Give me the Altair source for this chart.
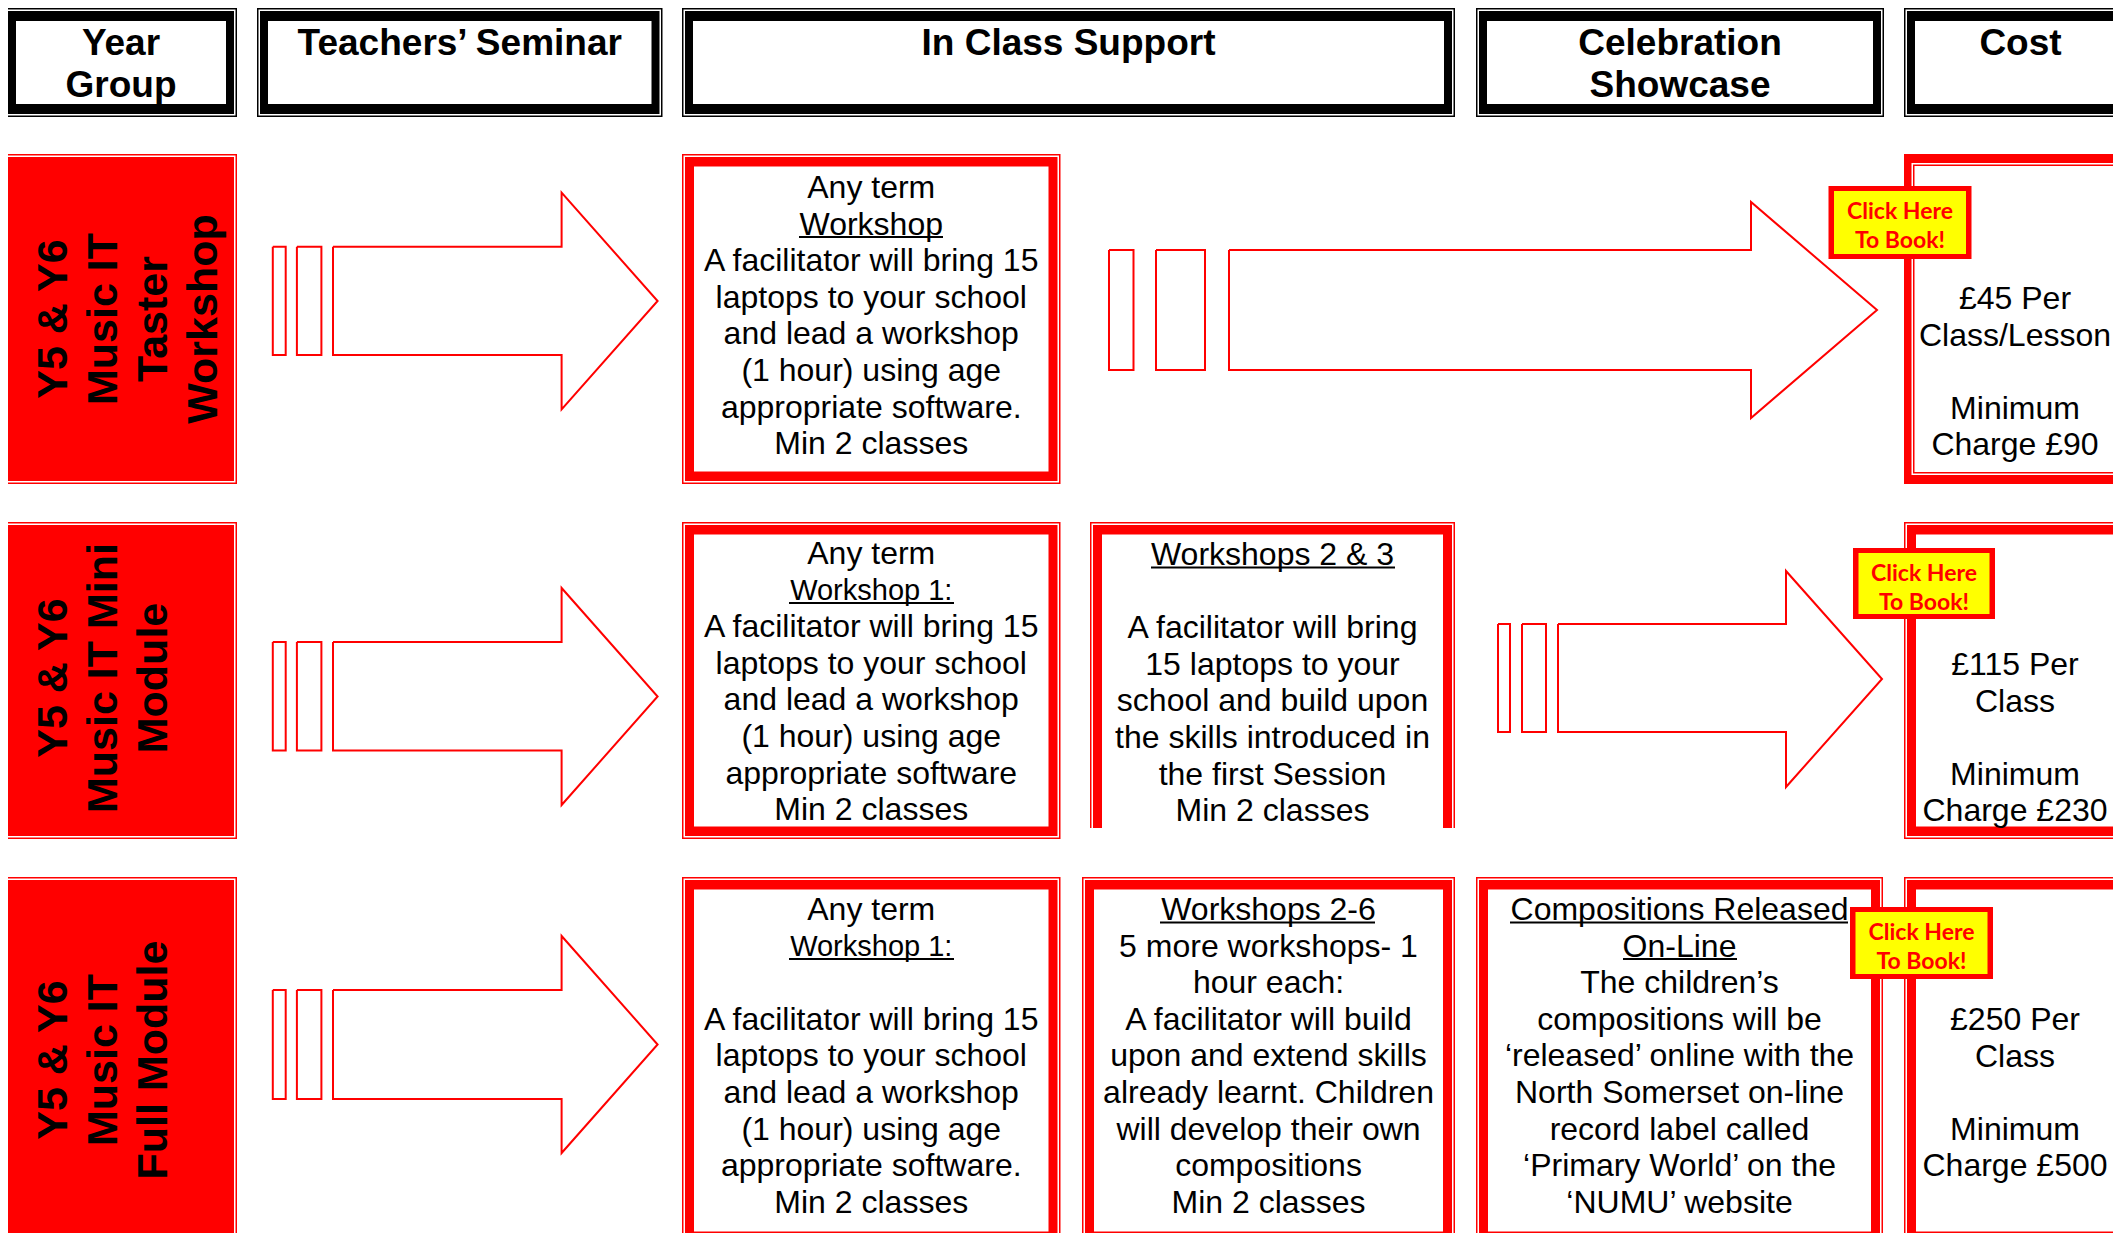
import altair as alt
import pandas as pd

W, H = 2105, 1225
RED, BLACK, WHITE, YELLOW = "#ff0000", "#000000", "#ffffff", "#ffff00"

# ---------------- content ----------------
HEADERS = [["Year", "Group"], ["Teachers’ Seminar"], ["In Class Support"],
           ["Celebration", "Showcase"], ["Cost"]]
ROW_LABELS = [["Y5 & Y6", "Music IT", "Taster", "Workshop"],
              ["Y5 & Y6", "Music IT Mini", "Module"],
              ["Y5 & Y6", "Music IT", "Full Module"]]
IN_CLASS = [
    ["Any term", "_Workshop", "A facilitator will bring 15", "laptops to your school",
     "and lead a workshop", "(1 hour) using age", "appropriate software.", "Min 2 classes"],
    ["Any term", "_Workshop 1:", "A facilitator will bring 15", "laptops to your school",
     "and lead a workshop", "(1 hour) using age", "appropriate software", "Min 2 classes"],
    ["Any term", "_Workshop 1:", "", "A facilitator will bring 15", "laptops to your school",
     "and lead a workshop", "(1 hour) using age", "appropriate software.", "Min 2 classes"],
]
WORKSHOPS_2_3 = ["_Workshops 2 & 3", "", "A facilitator will bring", "15 laptops to your",
                 "school and build upon", "the skills introduced in", "the first Session",
                 "Min 2 classes"]
WORKSHOPS_2_6 = ["_Workshops 2-6", "5 more workshops- 1", "hour each:",
                 "A facilitator will build", "upon and extend skills",
                 "already learnt. Children", "will develop their own", "compositions",
                 "Min 2 classes"]
SHOWCASE = ["_Compositions Released", "_On-Line", "The children’s", "compositions will be",
            "‘released’ online with the", "North Somerset on-line", "record label called",
            "‘Primary World’ on the", "‘NUMU’ website"]
COST = [["£45 Per", "Class/Lesson", "", "Minimum", "Charge £90"],
        ["£115 Per", "Class", "", "Minimum", "Charge £230"],
        ["£250 Per", "Class", "", "Minimum", "Charge £500"]]
BADGE_TEXT = ["Click Here", "To Book!"]

# ---------------- layout (page pixels) ----------------
HEADER_X = [(5, 237), (257, 662.5), (682, 1455), (1476, 1884), (1904, 2137)]
HEADER_Y = (8, 117)
ROW_Y = [(154, 484), (522, 839), (877, 1244)]
LABEL_X = (5, 237)
INCLASS_X = (682, 1060.5)
W23_BOX = (1090, 522, 1455, 828)
W26_BOX = (1082, 877, 1455, 1244)
SHOW_BOX = (1476, 877, 1883, 1244)
COST_X = (1904, 2137)
COST_TEXT_X = 2015
BADGES = [(1828.5, 186, 1971.5, 259), (1853, 548, 1995, 619), (1850, 907, 1993, 979)]
LINE_STEP = 36.6
INCLASS_Y0 = [186, 552, 908]
COST_Y0 = [297, 663, 1018]
LABEL_COLS = [51, 101, 151, 201]
LABEL_MID = [319, 678, 1060]
UNDERLINES = {  # (row, text) -> x span
    (0, "Workshop"): (799, 943), (1, "Workshop 1:"): (789, 954),
    (2, "Workshop 1:"): (789, 954), (1, "Workshops 2 & 3"): (1151, 1395),
    (2, "Workshops 2-6"): (1160, 1375), (2, "Compositions Released"): (1510, 1848),
    (2, "On-Line"): (1623, 1737),
}
# arrows: small bar spans, shaft start, head base, tip x, shaft y, head y
TS_ARROW_X = ((272.8, 285.7), (296.9, 321.4), 333, 561.6, 657.6)
TS_ARROW_Y = [((246.7, 355), (192.7, 409.3)), ((642, 750.5), (588, 805)),
              ((990, 1099), (936, 1153))]
CEL_ARROWS = [(((1109, 1133.5), (1156, 1205), 1229, 1751, 1877), ((250, 370), (202, 418))),
              (((1498, 1510), (1522, 1546), 1558, 1786, 1882), ((624, 732), (571, 787)))]

# ---------------- build tables ----------------
rects = []


def add(x1, y1, x2, y2, c, tbl):
    tbl.append(dict(x=x1, x2=x2, y=y1, y2=y2, c=c, i=len(tbl)))


def frame(box, color, kind, side=9, top=9.5, open_bottom=False, tbl=rects):
    x1, y1, x2, y2 = box
    if kind == "thin_thick":
        ins = [(0, 0, color), (1.5, 1.5, WHITE), (3, 3, color), (3 + side, 3 + top, WHITE)]
    elif kind == "thick_thin":
        ins = [(0, 0, color), (side, top, WHITE), (side + 1.5, top + 1.5, color),
               (side + 3, top + 3, WHITE)]
    else:
        ins = [(0, 0, color), (1.5, 1.5, WHITE), (3, 3, color)]
    for dx, dy, c in ins:
        add(x1 + dx, y1 + dy, x2 - dx, y2 if open_bottom else y2 - dy, c, tbl)


for hx in HEADER_X:
    frame((hx[0], HEADER_Y[0], hx[1], HEADER_Y[1]), BLACK, "thin_thick", side=8, top=10)
for r, (ya, yb) in enumerate(ROW_Y):
    frame((LABEL_X[0], ya, LABEL_X[1], yb), RED, "filled")
    frame((INCLASS_X[0], ya, INCLASS_X[1], yb), RED, "thin_thick")
    if r == 0:
        frame((COST_X[0], ya, COST_X[1], yb), RED, "thick_thin", side=7.5, top=9)
    else:
        frame((COST_X[0], ya, COST_X[1], yb), RED, "thin_thick")
frame(W23_BOX, RED, "thin_thick", open_bottom=True)
frame(W26_BOX, RED, "thin_thick")
frame(SHOW_BOX, RED, "thin_thick")

badge_rects = []
for b in BADGES:
    add(b[0], b[1], b[2], b[3], RED, badge_rects)
    add(b[0] + 5.5, b[1] + 5, b[2] - 5.5, b[3] - 5, YELLOW, badge_rects)

# arrow outlines
lines = []


def poly(pid, pts):
    for k, (x, y) in enumerate(pts + [pts[0]]):
        lines.append(dict(id=pid, k=k, x=x, y=y))


def arrow(pid, xs, ys):
    (b1, b2, x0, hx, tx), ((s1, s2), (h1, h2)) = xs, ys
    for j, (a, b) in enumerate((b1, b2)):
        poly(f"{pid}b{j}", [(a, s1), (b, s1), (b, s2), (a, s2)])
    poly(f"{pid}a", [(x0, s1), (hx, s1), (hx, h1), (tx, (h1 + h2) / 2), (hx, h2), (hx, s2), (x0, s2)])


for r, ys in enumerate(TS_ARROW_Y):
    arrow(f"ts{r}", TS_ARROW_X, ys)
for r, (xs, ys) in enumerate(CEL_ARROWS):
    arrow(f"cel{r}", xs, ys)

# text
head_txt, body_txt, label_txt, badge_txt, unders = [], [], [], [], []
for (x1, x2), lns in zip(HEADER_X, HEADERS):
    for j, t in enumerate(lns):
        head_txt.append(dict(x=(x1 + x2) / 2, y=55 + 42 * j, t=t))


def block(row, cx, y0, lns, fs=32):
    for j, t in enumerate(lns):
        if not t:
            continue
        u = t.startswith("_")
        t = t.lstrip("_")
        yc = y0 + LINE_STEP * j
        size = 29 if t == "Workshop 1:" else fs
        body_txt.append(dict(x=cx, y=yc + 2, t=t, fs=size))
        if u:
            sx = UNDERLINES[(row, t)]
            unders.append(dict(x=sx[0], x2=sx[1], y=yc + 14.5))


for r in range(3):
    block(r, sum(INCLASS_X) / 2, INCLASS_Y0[r], IN_CLASS[r])
    block(r, COST_TEXT_X, COST_Y0[r], COST[r])
block(1, (W23_BOX[0] + W23_BOX[2]) / 2, 553, WORKSHOPS_2_3)
block(2, (W26_BOX[0] + W26_BOX[2]) / 2, 908, WORKSHOPS_2_6)
block(2, (SHOW_BOX[0] + SHOW_BOX[2]) / 2, 908, SHOWCASE)

for r, lns in enumerate(ROW_LABELS):
    for j, t in enumerate(lns):
        label_txt.append(dict(x=LABEL_COLS[j] + 3, y=LABEL_MID[r], t=t))

for b in BADGES:
    for j, t in enumerate(BADGE_TEXT):
        badge_txt.append(dict(x=(b[0] + b[2]) / 2, y=b[1] + 24.5 + 29.5 * j + 1.3, t=t))

# ---------------- chart ----------------
xs = alt.Scale(domain=[8, 8 + W], range=[0, W], nice=False, zero=False)
ys = alt.Scale(domain=[8, 8 + H], range=[0, H], nice=False, zero=False)
X = lambda f="x": alt.X(f, type="quantitative", scale=xs, axis=None)
Y = lambda f="y": alt.Y(f, type="quantitative", scale=ys, axis=None)
col = alt.Color("c:N", scale=None)


def rect_layer(tbl):
    return alt.Chart(pd.DataFrame(tbl)).mark_rect(clip=True).encode(
        x=X(), x2="x2:Q", y=Y(), y2="y2:Q", color=col, order=alt.Order("i:Q"))


boxes = rect_layer(rects)
badges = rect_layer(badge_rects)

arrows = alt.Chart(pd.DataFrame(lines)).mark_line(
    color=RED, strokeWidth=2, clip=True, strokeJoin="miter").encode(
    x=X(), y=Y(), detail="id:N", order="k:Q")

head = alt.Chart(pd.DataFrame(head_txt)).mark_text(
    font="Liberation Sans", fontWeight="bold", fontSize=37, align="center",
    baseline="alphabetic", color=BLACK, clip=True).encode(x=X(), y=Y(), text="t:N")

body = alt.Chart(pd.DataFrame(body_txt)).mark_text(
    font="Liberation Sans", align="center", baseline="middle", color=BLACK,
    clip=True).encode(x=X(), y=Y(), text="t:N", size=alt.Size("fs:Q", scale=None))

under = alt.Chart(pd.DataFrame(unders)).mark_rule(
    color=BLACK, strokeWidth=2, clip=True).encode(x=X(), x2="x2:Q", y=Y())

labels = alt.Chart(pd.DataFrame(label_txt)).mark_text(
    font="Liberation Sans", fontWeight="bold", fontSize=43, angle=270, align="center",
    baseline="middle", color=BLACK, clip=True).encode(x=X(), y=Y(), text="t:N")

btxt = alt.Chart(pd.DataFrame(badge_txt)).mark_text(
    font="Lato", fontWeight="bold", fontSize=23, align="center", baseline="middle",
    color=RED, clip=True).encode(x=X(), y=Y(), text="t:N")

chart = alt.layer(boxes, arrows, body, under, head, labels, badges, btxt).properties(
    width=W, height=H, padding=0, autosize=alt.AutoSizeParams(type="none")
).configure_view(stroke=None)

chart.save("out.html", embed_options={"renderer": "svg", "actions": False})
